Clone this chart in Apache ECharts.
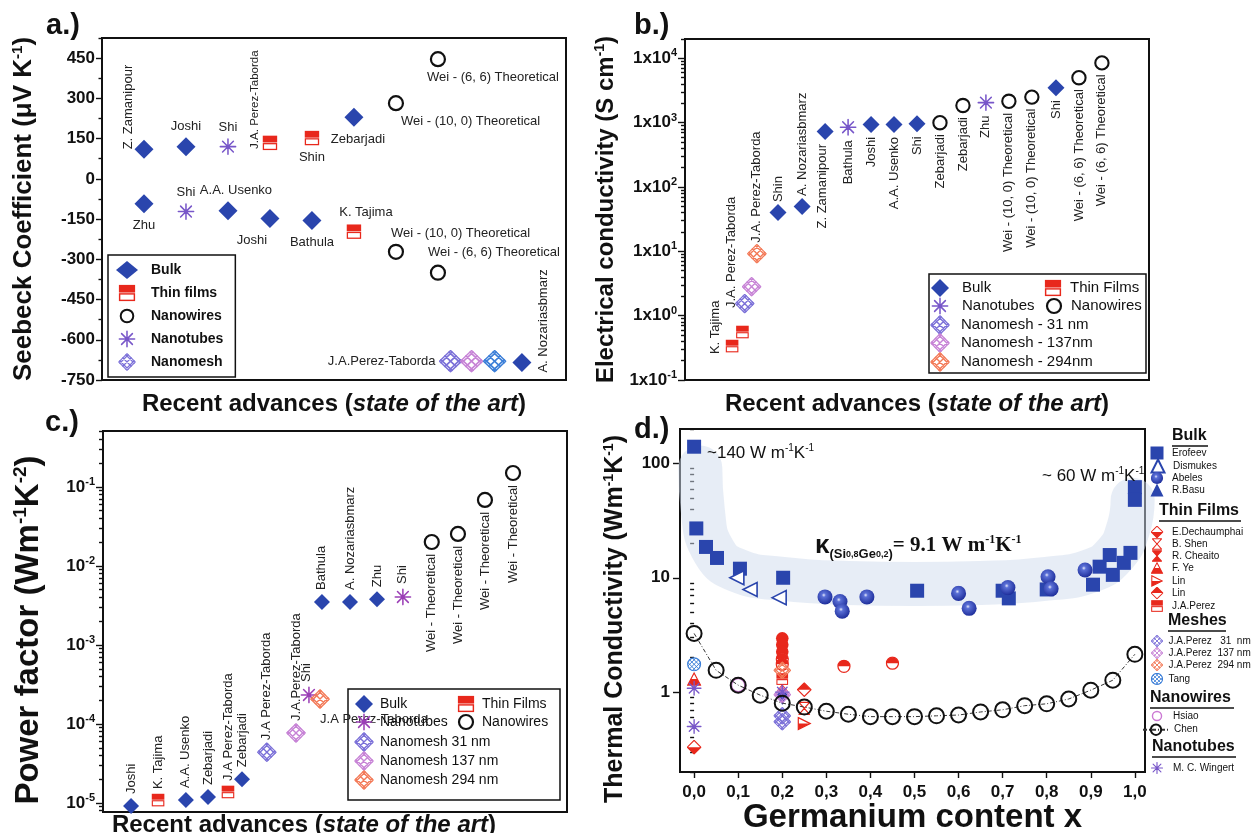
<!DOCTYPE html>
<html>
<head>
<meta charset="utf-8">
<title>SiGe thermoelectric properties</title>
<script src="https://cdn.jsdelivr.net/npm/echarts@6.0.0/dist/echarts.min.js"></script>
<style>
html,body{margin:0;padding:0;background:#fff;}
#wrap{position:relative;width:1251px;height:833px;overflow:hidden;background:#fff;}
.panel{position:absolute;left:0;top:0;width:1251px;height:833px;}
</style>
</head>
<body>
<div id="wrap">
  <div class="panel" id="pa"></div>
  <div class="panel" id="pb"></div>
  <div class="panel" id="pc"></div>
  <div class="panel" id="pd"></div>
</div>
<script>
// ===================== data =====================
// a) Seebeck coefficient (uV/K); x = slot along "state of the art"
const seebeckBulk  = [[1,110,'Z. Zamanipour'],[2,120,'Joshi'],[6,230,'Zebarjadi'],[1,-93,'Zhu'],[3,-119,'A.A. Usenko'],[4,-148,'Joshi'],[5,-155,'Bathula'],[10,-685,'A. Nozariasbmarz']];
const seebeckThin  = [[4,134,'J.A. Perez-Taborda'],[5,152,'Shin'],[6,-197,'K. Tajima']];
const seebeckWires = [[8,446,'Wei - (6, 6) Theoretical'],[7,282,'Wei - (10, 0) Theoretical'],[7,-272,'Wei - (10, 0) Theoretical'],[8,-350,'Wei - (6, 6) Theoretical']];
const seebeckTubes = [[3,120,'Shi'],[2,-122,'Shi']];
const seebeckMesh  = [[8.3,-680,'J.A.Perez-Taborda'],[8.8,-680,''],[9.35,-680,'']];
const seebeckTicks = [-750,-600,-450,-300,-150,0,150,300,450];
const seebeckMinor = [-675,-525,-375,-225,-75,75,225,375,525];

// b) Electrical conductivity (S/cm)
const condBulk    = [[4.05,40,'Shin'],[5.1,50,'A. Nozariasbmarz'],[6.1,730,'Z. Zamanipour'],[8.1,940,'Joshi'],[9.1,940,'A.A. Usenko'],[10.1,960,'Shi'],[16.15,3500,'Shi']];
const condThin    = [[2.05,0.337,'K. Tajima'],[2.5,0.557,'J.A. Perez-Taborda']];
const condTubes   = [[7.1,850,'Bathula'],[13.1,2050,'Zhu']];
const condWires   = [[11.1,1000,'Zebarjadi'],[12.1,1850,'Zebarjadi'],[14.1,2150,'Wei - (10, 0) Theoretical'],[15.1,2500,'Wei - (10, 0) Theoretical'],[17.15,5000,'Wei - (6, 6) Theoretical'],[18.15,8500,'Wei - (6, 6) Theoretical']];
const condMesh31  = [[2.6,1.54,'']];
const condMesh137 = [[2.9,2.82,'']];
const condMesh294 = [[3.13,9.2,'J.A. Perez-Taborda']];
const condTicks   = [0.1,1,10,100,1000,10000];

// c) Power factor (W m^-1 K^-2)
const pfBulk    = [[1.04,9.2e-6,'Joshi'],[3.07,1.09e-5,'A.A. Usenko'],[3.89,1.19e-5,'Zebarjadi'],[5.15,2.0e-5,'Zebarjadi'],[8.11,3.5e-3,'Bathula'],[9.15,3.5e-3,'A. Nozariasbmarz'],[10.15,3.8e-3,'Zhu']];
const pfThin    = [[2.04,1.09e-5,'K. Tajima'],[4.63,1.38e-5,'J.A Perez-Taborda']];
const pfTubes   = [[7.63,2.33e-4,'Shi'],[11.11,4.05e-3,'Shi']];
const pfWires   = [[12.18,2.01e-2,'Wei - Theoretical'],[13.15,2.54e-2,'Wei - Theoretical'],[14.15,6.84e-2,'Wei - Theoretical'],[15.19,1.5e-1,'Wei - Theoretical']];
const pfMesh31  = [[6.07,4.4e-5,'J.A Perez-Taborda']];
const pfMesh137 = [[7.15,7.7e-5,'J.A.Perez-Taborda']];
const pfMesh294 = [[8.04,2.07e-4,'J.A Perez-Taborda']];
const pfTicks   = [1e-5,1e-4,1e-3,1e-2,1e-1];

// d) Thermal conductivity (W m^-1 K^-1) vs germanium content x
const kErofeev   = [[0,140],[0.005,27],[0.027,18.6],[0.052,14.9],[0.104,12],[0.202,10],[0.506,7.7],[0.70,7.7],[0.714,6.6],[0.80,7.9],[0.905,8.7],[0.92,12.5],[0.943,15.8],[0.95,10.6],[0.975,13.5],[0.99,16.5],[1.0,62],[1.0,48]];
const kDismukes  = [[0.097,10],[0.127,7.9],[0.193,6.7]];
const kAbeles    = [[0.297,6.8],[0.331,6.2],[0.336,5.1],[0.392,6.8],[0.60,7.3],[0.624,5.4],[0.712,8.2],[0.803,10.2],[0.81,8.0],[0.887,11.7]];
const kBasu      = [[0.2,0.87]];
const kDechaumphai = [[0,0.33]];
const kShen      = [[0.25,0.72]];
const kCheaito   = [[0.2,1.15]];
const kYe        = [[0,1.3]];
const kLinTri    = [[0.25,0.53]];
const kLinDia    = [[0.25,1.05]];
const kPerezFilm = [[0.2,1.3]];
const kFilmRound = [[0.2,2.95],[0.2,2.6],[0.2,2.25],[0.2,1.95],[0.2,1.75],[0.34,1.68],[0.45,1.79]];
const kMesh31    = [[0.2,0.62],[0.2,0.55]];
const kMesh137   = [[0.2,0.95]];
const kMesh294   = [[0.2,1.55]];
const kTang      = [[0,1.75]];
const kHsiao     = [[0.1,1.15]];
const kChen      = [[0,3.26],[0.05,1.55],[0.1,1.15],[0.15,0.94],[0.2,0.80],[0.25,0.74],[0.3,0.68],[0.35,0.64],[0.4,0.61],[0.45,0.61],[0.5,0.61],[0.55,0.62],[0.6,0.63],[0.65,0.67],[0.7,0.70],[0.75,0.76],[0.8,0.79],[0.85,0.87],[0.9,1.04],[0.95,1.27],[1.0,2.14]];
const kWingert   = [[0,1.08],[0,0.5],[0.2,1.0]];
const kBand      = [[0.014,92],[0.02,38],[0.045,17],[0.1,11.5],[0.2,9.8],[0.35,9.0],[0.5,8.8],[0.65,9.0],[0.8,9.8],[0.9,11.5],[0.955,16],[0.985,27],[0.995,48]];
const kTicksX    = [0,0.1,0.2,0.3,0.4,0.5,0.6,0.7,0.8,0.9,1.0];
const kTicksY    = [1,10,100];

// ===================== styling helpers =====================
const FONT = '"Liberation Sans", Arial, Helvetica, sans-serif';
const SERIF = '"Liberation Serif", "Times New Roman", serif';
const INK = '#111';
const BLUE = '#2a45ad';
const RED = '#e8281c';
const TUBE = '#7857c9';
const TUBE_C = '#9b3fb6';
const MESH_V = '#7b70d8';
const MESH_P = '#c783d6';
const MESH_O = '#f37a58';
const MESH_B = '#3c7fd8';
const HSIAO = '#cc7ad4';

function svgSym(w, h, body) {
  return 'image://data:image/svg+xml;charset=utf-8,' + encodeURIComponent(
    '<svg xmlns="http://www.w3.org/2000/svg" width="' + w + '" height="' + h + '" viewBox="0 0 ' + w + ' ' + h + '">' + body + '</svg>');
}
function meshSym(c) {
  let d = '';
  for (let k = -14; k <= 14; k += 7) {
    d += 'M-4 ' + (-4 + k) + 'L25 ' + (25 + k) + 'M-4 ' + (25 + k) + 'L25 ' + (-4 + k);
  }
  return svgSym(21, 21, '<defs><clipPath id="c"><path d="M10.5 0L21 10.5L10.5 21L0 10.5Z"/></clipPath></defs>' +
    '<g clip-path="url(#c)"><path d="' + d + '" stroke="' + c + '" stroke-width="1.5" fill="none"/></g>' +
    '<path d="M10.5 0.8L20.2 10.5L10.5 20.2L0.8 10.5Z" fill="none" stroke="' + c + '" stroke-width="1.3"/>');
}
function asteriskSym(c) {
  return svgSym(20, 20, '<g stroke="' + c + '" stroke-width="1.7" stroke-linecap="round"><path d="M10 1.5V18.5M1.5 10H18.5M4 4L16 16M16 4L4 16"/></g><circle cx="10" cy="10" r="1.6" fill="' + c + '"/>');
}
function ringSym(c, sw) {
  return svgSym(20, 20, '<circle cx="10" cy="10" r="7" fill="#fff" stroke="' + c + '" stroke-width="' + sw + '"/>');
}
const RING = ringSym(INK, 2.2);
const HALF_SQ = svgSym(20, 20, '<rect x="1" y="1" width="18" height="8.5" fill="' + RED + '"/><rect x="1.8" y="11" width="16.4" height="7.2" fill="#fff" stroke="' + RED + '" stroke-width="1.6"/>');
const HALF_CIRC = svgSym(20, 20, '<circle cx="10" cy="10" r="8.6" fill="#fff" stroke="' + RED + '" stroke-width="1.8"/><path d="M1.4 10A8.6 8.6 0 0 1 18.6 10Z" fill="' + RED + '"/>');
const FULL_CIRC = svgSym(20, 20, '<circle cx="10" cy="10" r="9" fill="' + RED + '"/>');
const DIA_LOW = svgSym(20, 20, '<path d="M10 1L19 10L10 19L1 10Z" fill="#fff" stroke="' + RED + '" stroke-width="1.6"/><path d="M1 10L19 10L10 19Z" fill="' + RED + '"/>');
const DIA_UP = svgSym(20, 20, '<path d="M10 1L19 10L10 19L1 10Z" fill="#fff" stroke="' + RED + '" stroke-width="1.6"/><path d="M1 10L19 10L10 1Z" fill="' + RED + '"/>');
const HOUR_OPEN = svgSym(20, 20, '<path d="M3 2H17L10 10L17 18H3L10 10Z" fill="#fff" stroke="' + RED + '" stroke-width="1.6" stroke-linejoin="round"/>');
const HOUR_FULL = svgSym(20, 20, '<path d="M3 2H17L10 10L17 18H3L10 10Z" fill="' + RED + '" stroke="' + RED + '" stroke-width="1.6" stroke-linejoin="round"/>');
const TRI_UP = svgSym(20, 20, '<path d="M10 2L18.5 18H1.5Z" fill="#fff" stroke="' + RED + '" stroke-width="1.6"/><path d="M5.8 10H14.2L18.5 18H1.5Z" fill="' + RED + '"/>');
const TRI_RIGHT = svgSym(20, 20, '<path d="M2 2L18 10L2 18Z" fill="#fff" stroke="' + RED + '" stroke-width="1.6"/><path d="M2 10H18L2 18Z" fill="' + RED + '"/>');
const SPHERE = svgSym(20, 20, '<defs><radialGradient id="g" cx="0.42" cy="0.38" r="0.62"><stop offset="0" stop-color="#e6e9fb"/><stop offset="0.22" stop-color="#5a6fd6"/><stop offset="1" stop-color="#1f2f9c"/></radialGradient></defs><circle cx="10" cy="10" r="9.4" fill="url(#g)"/>');
const TANG = (function () {
  let d = '';
  for (let k = -12; k <= 12; k += 6) d += 'M-4 ' + (-4 + k) + 'L24 ' + (24 + k) + 'M-4 ' + (24 + k) + 'L24 ' + (-4 + k);
  return svgSym(20, 20, '<defs><clipPath id="t"><circle cx="10" cy="10" r="8.5"/></clipPath></defs><g clip-path="url(#t)"><path d="' + d + '" stroke="' + MESH_B + '" stroke-width="1.3" fill="none"/></g><circle cx="10" cy="10" r="8.6" fill="none" stroke="' + MESH_B + '" stroke-width="1.6"/>');
})();

// label placement; dx/dy are screen offsets (converted for rotated text)
function lab(kind, dx, dy, dist, fs) {
  dx = dx || 0; dy = dy || 0;
  const o = { show: true, formatter: '{b}', fontFamily: FONT, fontSize: fs || 13, color: '#222',
    offset: [dx, dy], distance: dist == null ? 4 : dist };
  switch (kind) {
    case 't': o.position = 'top'; break;
    case 'b': o.position = 'bottom'; break;
    case 'l': o.position = 'left'; break;
    case 'r': o.position = 'right'; break;
    case 'bl': o.position = 'bottom'; o.align = 'left'; break;
    case 'tl': o.position = 'top'; o.align = 'left'; break;
    case 'vu': o.position = 'top'; o.align = 'left'; break;
    case 'vd': o.position = 'bottom'; o.align = 'right'; break;
    case 'vl': o.position = 'left'; o.align = 'left'; break;
    case 'vr': o.position = 'right'; o.align = 'left'; break;
  }
  if (kind.charAt(0) === 'v') { o.rotate = 90; o.verticalAlign = 'middle'; o.offset = [-dy, dx]; }
  return o;
}
function items(arr, labels) {
  return arr.map(function (p, i) {
    const d = { value: [p[0], p[1]], name: p[2] || '' };
    if (labels && labels[i]) d.label = labels[i];
    return d;
  });
}
function solid(style) { return Object.assign({ opacity: 1 }, style || {}); }
function frameLine() { return { show: true, onZero: false, lineStyle: { color: INK, width: 2 } }; }
function ticks(len, vals) { return { show: true, inside: false, length: len, customValues: vals, lineStyle: { color: INK, width: 1.4 } }; }
function minorLog(min, max) {
  const out = [];
  for (let e = -7; e <= 5; e++) for (let m = 2; m <= 9; m++) {
    const v = parseFloat((m * Math.pow(10, e)).toPrecision(6));
    if (v >= min * 0.999 && v <= max * 1.001) out.push(v);
  }
  return out;
}
function supRich(big, small, raise) {
  return {
    m: { fontFamily: FONT, fontSize: big, fontWeight: 'bold', color: INK },
    s: { fontFamily: FONT, fontSize: small, fontWeight: 'bold', color: INK, padding: [0, 0, raise, 0] },
    i: { fontFamily: FONT, fontSize: big, fontWeight: 'bold', fontStyle: 'italic', color: INK }
  };
}
function tag(text, x, y) {
  return { type: 'text', left: x, top: y, z: 10, style: { text: text, font: 'bold 29px ' + FONT, fill: INK } };
}
function legendAt(name, cx, cy, tx, o) {
  o = o || {};
  const w = o.w || 18, h = o.h || 18;
  return {
    data: [name], orient: 'horizontal', left: cx - w / 2, top: cy - h / 2,
    itemWidth: w, itemHeight: h, itemGap: 0, padding: 0, selectedMode: false,
    textStyle: { fontFamily: FONT, fontSize: o.fs || 14, fontWeight: o.fw || 'normal', color: INK,
      padding: [0, 0, 0, Math.max(0, tx - (cx + w / 2 + 5))] }
  };
}
const REC_NAME = '{m|Recent advances (}{i|state of the art}{m|)}';

// ===================== a) Seebeck =====================
const optA = {
  animation: false,
  textStyle: { fontFamily: FONT },
  grid: { left: 102, top: 38, width: 464, height: 342, show: true, borderColor: INK, borderWidth: 2, outerBoundsMode: 'none' },
  xAxis: {
    type: 'value', min: 0, max: 11.05, axisLine: frameLine(), axisTick: { show: false }, axisLabel: { show: false }, splitLine: { show: false },
    name: REC_NAME, nameLocation: 'middle', nameGap: 12, nameTextStyle: { rich: supRich(24, 14, 10) }
  },
  yAxis: [
    { type: 'value', min: -750, max: 525, axisLine: frameLine(), axisTick: ticks(6, seebeckTicks), splitLine: { show: false },
      axisLabel: { customValues: seebeckTicks, fontFamily: FONT, fontSize: 17, fontWeight: 'bold', color: INK, margin: 7 },
      name: '{m|Seebeck Coefficient (\u03bcV K}{s|-1}{m|)}', nameLocation: 'middle', nameGap: 64,
      nameTextStyle: { rich: supRich(26, 15, 13) } },
    { type: 'value', min: -750, max: 525, position: 'left', axisLine: { show: false }, axisTick: ticks(3.5, seebeckMinor), axisLabel: { show: false }, splitLine: { show: false } }
  ],
  legend: {
    orient: 'vertical', left: 108, top: 255, data: ['Bulk', 'Thin films', 'Nanowires', 'Nanotubes', 'Nanomesh'],
    itemWidth: 22, itemHeight: 18, itemGap: 5, padding: [6, 12, 6, 8], borderColor: INK, borderWidth: 1.5, backgroundColor: '#fff',
    selectedMode: false, textStyle: { fontFamily: FONT, fontSize: 14, fontWeight: 'bold', color: INK, padding: [0, 0, 0, 8] }
  },
  graphic: [tag('a.)', 46, 11)],
  series: [
    { type: 'scatter', name: 'Bulk', symbol: 'diamond', symbolSize: 19, itemStyle: solid({ color: BLUE }),
      data: items(seebeckBulk, [lab('vl', 0, 0, 6), lab('t'), lab('b', 4, 0, 6), lab('b', 0, 0, 6), lab('t', 8), lab('b', -18, 0, 6), lab('b', 0, 0, 6), lab('vr', 0, 10, 12)]) },
    { type: 'scatter', name: 'Thin films', symbol: HALF_SQ, symbolSize: 16, itemStyle: solid(),
      data: items(seebeckThin, [lab('vl', -1, 6, 6, 11.5), lab('b', 0, 0, 5), lab('t', 12, 0, 5)]) },
    { type: 'scatter', name: 'Nanowires', symbol: RING, symbolSize: 20, itemStyle: solid(),
      data: items(seebeckWires, [lab('bl', -11, -2, 4), lab('bl', 5, -2, 4), lab('tl', -5, 2, 4), lab('tl', -10, 2, 6)]) },
    { type: 'scatter', name: 'Nanotubes', symbol: asteriskSym(TUBE), symbolSize: 18, itemStyle: solid(),
      data: items(seebeckTubes, [lab('t', 0, 0, 4), lab('t', 0, 0, 4)]) },
    { type: 'scatter', name: 'Nanomesh', symbol: meshSym(MESH_V), symbolSize: [24, 23], itemStyle: solid(),
      data: items(seebeckMesh, [lab('l', 0, 0, 3), null, null]).map(function (d, i) { d.symbol = meshSym([MESH_V, MESH_P, MESH_B][i]); return d; }) }
  ]
};

// ===================== b) conductivity =====================
function expFmt(base) {
  return function (v) { const e = Math.round(Math.log10(v)); return '{m|' + base + '}{s|' + e + '}'; };
}
const optB = {
  animation: false,
  textStyle: { fontFamily: FONT },
  grid: { left: 685, top: 39, width: 464, height: 341, show: true, borderColor: INK, borderWidth: 2, outerBoundsMode: 'none' },
  xAxis: {
    type: 'value', min: 0, max: 20.2, axisLine: frameLine(), axisTick: { show: false }, axisLabel: { show: false }, splitLine: { show: false },
    name: REC_NAME, nameLocation: 'middle', nameGap: 12, nameTextStyle: { rich: supRich(24, 14, 10) }
  },
  yAxis: [
    { type: 'log', logBase: 10, min: 0.1, max: 20000, axisLine: frameLine(), axisTick: ticks(7, condTicks), splitLine: { show: false },
      axisLabel: { customValues: condTicks, formatter: expFmt('1x10'), rich: supRich(17, 11, 10), margin: 8 },
      name: '{m|Electrical conductivity (S cm}{s|-1}{m|)}', nameLocation: 'middle', nameGap: 65,
      nameTextStyle: { rich: supRich(24, 14, 13) } },
    { type: 'log', logBase: 10, min: 0.1, max: 20000, position: 'left', axisLine: { show: false }, axisTick: ticks(4, minorLog(0.1, 20000)), axisLabel: { show: false }, splitLine: { show: false } }
  ],
  legend: [
    legendAt('Bulk', 940, 288, 962, { fs: 15 }),
    legendAt('Thin Films', 1053, 288, 1070, { fs: 15 }),
    legendAt('Nanotubes', 940, 306, 962, { fs: 15 }),
    legendAt('Nanowires', 1054, 306, 1071, { fs: 15, w: 20, h: 20 }),
    legendAt('Nanomesh - 31 nm', 940, 325, 961, { fs: 15, w: 20, h: 20 }),
    legendAt('Nanomesh - 137nm', 940, 343, 961, { fs: 15, w: 20, h: 20 }),
    legendAt('Nanomesh - 294nm', 940, 362, 961, { fs: 15, w: 20, h: 20 })
  ],
  graphic: [
    tag('b.)', 634, 11),
    { type: 'rect', shape: { x: 929, y: 274, width: 217, height: 99 }, style: { fill: '#fff', stroke: INK, lineWidth: 1.5 }, z: 0 }
  ],
  series: [
    { type: 'scatter', name: 'Bulk', symbol: 'diamond', symbolSize: 17, itemStyle: solid({ color: BLUE }), z: 3,
      data: items(condBulk, [lab('vu', 0, 0, 2), lab('vu', 0, 0, 2), lab('vd', -3, 0, 4), lab('vd'), lab('vd'), lab('vd'), lab('vd')]) },
    { type: 'scatter', name: 'Thin Films', symbol: HALF_SQ, symbolSize: 14, itemStyle: solid(), z: 3,
      data: items(condThin, [lab('vl', 0, 8, 10), lab('vu', -11, 0, 17)]) },
    { type: 'scatter', name: 'Nanotubes', symbol: asteriskSym(TUBE), symbolSize: 18, itemStyle: solid(), z: 3,
      data: items(condTubes, [lab('vd'), lab('vd')]) },
    { type: 'scatter', name: 'Nanowires', symbol: RING, symbolSize: 19, itemStyle: solid(), z: 3,
      data: items(condWires, [lab('vd', 0, 0, 2), lab('vd', 0, 0, 2), lab('vd', 0, 0, 2), lab('vd', 0, 0, 2), lab('vd', 0, 0, 2), lab('vd', 0, 0, 2)]) },
    { type: 'scatter', name: 'Nanomesh - 31 nm', symbol: meshSym(MESH_V), symbolSize: 20, itemStyle: solid(), z: 3, data: items(condMesh31) },
    { type: 'scatter', name: 'Nanomesh - 137nm', symbol: meshSym(MESH_P), symbolSize: 20, itemStyle: solid(), z: 3, data: items(condMesh137) },
    { type: 'scatter', name: 'Nanomesh - 294nm', symbol: meshSym(MESH_O), symbolSize: 20, itemStyle: solid(), z: 3, data: items(condMesh294, [lab('vu', 0, 0, 1)]) }
  ]
};

// ===================== c) power factor =====================
const optC = {
  animation: false,
  textStyle: { fontFamily: FONT },
  grid: { left: 103, top: 431, width: 464, height: 381, show: true, borderColor: INK, borderWidth: 2, outerBoundsMode: 'none' },
  xAxis: {
    type: 'value', min: 0, max: 17.19, axisLine: frameLine(), axisTick: { show: false }, axisLabel: { show: false }, splitLine: { show: false },
    name: REC_NAME, nameLocation: 'middle', nameGap: 1, nameTextStyle: { rich: supRich(24, 14, 10), padding: [0, 62, 0, 0] }
  },
  yAxis: [
    { type: 'log', logBase: 10, min: 7.7e-6, max: 0.51, axisLine: frameLine(), axisTick: ticks(7, pfTicks), splitLine: { show: false },
      axisLabel: { customValues: pfTicks, formatter: expFmt('10'), rich: supRich(17, 11, 10), margin: 8 },
      name: '{m|Power factor (Wm}{s|-1}{m|K}{s|-2}{m|)}', nameLocation: 'middle', nameGap: 56,
      nameTextStyle: { rich: supRich(33, 19, 17), padding: [0, 17, 0, 0] } },
    { type: 'log', logBase: 10, min: 7.7e-6, max: 0.51, position: 'left', axisLine: { show: false }, axisTick: ticks(4, minorLog(7.7e-6, 0.51)), axisLabel: { show: false }, splitLine: { show: false } }
  ],
  legend: [
    legendAt('Bulk', 364, 704, 380),
    legendAt('Thin Films', 466, 704, 482),
    legendAt('Nanotubes', 364, 722, 380),
    legendAt('Nanowires', 466, 722, 482, { w: 20, h: 20 }),
    legendAt('Nanomesh 31 nm', 364, 742, 380, { w: 20, h: 20 }),
    legendAt('Nanomesh 137 nm', 364, 761, 380, { w: 20, h: 20 }),
    legendAt('Nanomesh 294 nm', 364, 780, 380, { w: 20, h: 20 })
  ],
  graphic: [
    tag('c.)', 45, 408),
    { type: 'rect', shape: { x: 348, y: 689, width: 212, height: 111 }, style: { fill: '#fff', stroke: INK, lineWidth: 1.5 }, z: 0 }
  ],
  series: [
    { type: 'scatter', name: 'Bulk', symbol: 'diamond', symbolSize: 16, itemStyle: solid({ color: BLUE }), z: 3,
      data: items(pfBulk, [lab('vu'), lab('vu'), lab('vu'), lab('vu'), lab('vu'), lab('vu'), lab('vu')]) },
    { type: 'scatter', name: 'Thin Films', symbol: HALF_SQ, symbolSize: 14, itemStyle: solid(), z: 3,
      data: items(pfThin, [lab('vu'), lab('vu')]) },
    { type: 'scatter', name: 'Nanotubes', symbol: asteriskSym(TUBE_C), symbolSize: 18, itemStyle: solid(), z: 3,
      data: items(pfTubes, [lab('vu', -3, 0, 4), lab('vu')]) },
    { type: 'scatter', name: 'Nanowires', symbol: RING, symbolSize: 20, itemStyle: solid(), z: 3,
      data: items(pfWires, [lab('vd', 0, 0, 2), lab('vd', 0, 0, 2), lab('vd', 0, 0, 2), lab('vd', 0, 0, 2)]) },
    { type: 'scatter', name: 'Nanomesh 31 nm', symbol: meshSym(MESH_V), symbolSize: 20, itemStyle: solid(), z: 3, data: items(pfMesh31, [lab('vu', 0, 0, 2)]) },
    { type: 'scatter', name: 'Nanomesh 137 nm', symbol: meshSym(MESH_P), symbolSize: 20, itemStyle: solid(), z: 3, data: items(pfMesh137, [lab('vu', 0, 0, 2)]) },
    { type: 'scatter', name: 'Nanomesh 294 nm', symbol: meshSym(MESH_O), symbolSize: 20, itemStyle: solid(), z: 3, data: items(pfMesh294, [lab('bl', 0, 0, 4)]) }
  ]
};

// ===================== d) thermal conductivity =====================
function header(text, x, cy, w) {
  return [
    { type: 'text', left: x, top: cy - 9, z: 10, style: { text: text, font: 'bold 16px ' + FONT, fill: INK } },
    { type: 'line', z: 10, shape: { x1: x, y1: cy + 9, x2: x + w, y2: cy + 9 }, style: { stroke: INK, lineWidth: 1.5 } }
  ];
}
const dLeg = function (name, cy, tx, o) { o = o || {}; return legendAt(name, o.cx || 1157, cy, tx, { w: o.w || 13, h: o.h || 13, fs: 10 }); };
const optD = {
  animation: false,
  textStyle: { fontFamily: FONT },
  grid: { left: 680, top: 429, width: 465, height: 343, show: true, borderColor: INK, borderWidth: 2, outerBoundsMode: 'none' },
  xAxis: {
    type: 'value', min: -0.032, max: 1.023, axisLine: frameLine(), axisTick: ticks(6, kTicksX), splitLine: { show: false },
    axisLabel: { customValues: kTicksX, formatter: function (v) { return v.toFixed(1).replace('.', ','); }, fontFamily: FONT, fontSize: 17, fontWeight: 'bold', color: INK, margin: 12 },
    name: 'Germanium content x', nameLocation: 'middle', nameGap: 29, nameTextStyle: { fontFamily: FONT, fontSize: 33, fontWeight: 'bold', color: INK }
  },
  yAxis: [
    { type: 'log', logBase: 10, min: 0.2, max: 200, axisLine: frameLine(), axisTick: ticks(7, kTicksY), splitLine: { show: false },
      axisLabel: { customValues: kTicksY, fontFamily: FONT, fontSize: 17, fontWeight: 'bold', color: INK, margin: 10 },
      name: '{m|Thermal Conductivity (Wm}{s|-1}{m|K}{s|-1}{m|)}', nameLocation: 'middle', nameGap: 52,
      nameTextStyle: { rich: supRich(25, 14, 12), padding: [0, 37, 0, 0] } },
    { type: 'log', logBase: 10, min: 0.2, max: 200, position: 'left', axisLine: { show: false }, axisTick: ticks(4, minorLog(0.2, 200)), axisLabel: { show: false }, splitLine: { show: false } }
  ],
  legend: [
    dLeg('Erofeev', 453, 1172), dLeg('Dismukes', 465, 1172), dLeg('Abeles', 478, 1172), dLeg('R.Basu', 490, 1172),
    dLeg('E.Dechaumphai', 532, 1172), dLeg('B. Shen', 544, 1172), dLeg('R. Cheaito', 556, 1172), dLeg('F. Ye', 568, 1172),
    dLeg('Lin', 581, 1172), dLeg('Lin ', 593, 1172), dLeg('J.A.Perez', 606, 1172),
    dLeg('J.A.Perez   31  nm', 641, 1168), dLeg('J.A.Perez  137 nm', 653, 1168), dLeg('J.A.Perez  294 nm', 665, 1168), dLeg('Tang', 679, 1168),
    dLeg('Hsiao', 716, 1173), dLeg('Chen', 730, 1173, { w: 26, cx: 1155 }), dLeg('M. C. Wingert', 768, 1173)
  ],
  graphic: [tag('d.)', 634, 415)]
    .concat(header('Bulk', 1172, 437, 36))
    .concat(header('Thin Films', 1159, 512, 82))
    .concat(header('Meshes', 1168, 622, 58))
    .concat(header('Nanowires', 1150, 699, 84))
    .concat(header('Nanotubes', 1152, 748, 84))
    .concat([
      { type: 'text', left: 707, top: 443, z: 10, style: { text: '{n|~140 W m}{u|-1}{n|K}{u|-1}', rich: {
        n: { fontFamily: FONT, fontSize: 17, fill: INK }, u: { fontFamily: FONT, fontSize: 10, fill: INK, padding: [0, 0, 10, 0] } } } },
      { type: 'text', left: 1042, top: 466, z: 10, style: { text: '{n|~ 60 W m}{u|-1}{n|K}{u|-1}', rich: {
        n: { fontFamily: FONT, fontSize: 17, fill: INK }, u: { fontFamily: FONT, fontSize: 10, fill: INK, padding: [0, 0, 10, 0] } } } },
      { type: 'text', left: 815, top: 533, z: 10, style: { text: '{k|\u03ba}{p|(Si}{q|0,8}{p|Ge}{q|0,2}{p|)}{e|= 9.1 W m}{u|-1}{e|K}{u|-1}', rich: {
        k: { fontFamily: FONT, fontSize: 26, fontWeight: 'bold', fill: INK },
        p: { fontFamily: FONT, fontSize: 13, fontWeight: 'bold', fill: INK, padding: [16, 0, 0, 0] },
        q: { fontFamily: FONT, fontSize: 9, fontWeight: 'bold', fill: INK, padding: [18, 0, 0, 0] },
        e: { fontFamily: SERIF, fontSize: 21, fontWeight: 'bold', fill: INK },
        u: { fontFamily: SERIF, fontSize: 12, fontWeight: 'bold', fill: INK, padding: [0, 0, 12, 0] } } } }
    ]),
  series: [
    { type: 'line', name: 'band', data: kBand, smooth: 0.5, symbol: 'none', silent: true, z: 1,
      lineStyle: { color: 'rgba(208,220,237,0.5)', width: 44, cap: 'round', join: 'round' } },
    { type: 'scatter', name: 'Erofeev', symbol: 'rect', symbolSize: 14, itemStyle: solid({ color: BLUE }), z: 3, data: items(kErofeev) },
    { type: 'scatter', name: 'Dismukes', symbol: 'triangle', symbolRotate: 90, symbolSize: 14, itemStyle: solid({ color: '#fff', borderColor: BLUE, borderWidth: 1.6 }), z: 3, data: items(kDismukes) },
    { type: 'scatter', name: 'Abeles', symbol: SPHERE, symbolSize: 16, itemStyle: solid(), z: 3, data: items(kAbeles) },
    { type: 'scatter', name: 'R.Basu', symbol: 'triangle', symbolRotate: 180, symbolSize: 12, itemStyle: solid({ color: BLUE }), z: 3, data: items(kBasu) },
    { type: 'scatter', name: 'E.Dechaumphai', symbol: DIA_LOW, symbolSize: 15, itemStyle: solid(), z: 3, data: items(kDechaumphai) },
    { type: 'scatter', name: 'B. Shen', symbol: HOUR_OPEN, symbolSize: 15, itemStyle: solid(), z: 3, data: items(kShen) },
    { type: 'scatter', name: 'R. Cheaito', symbol: HOUR_FULL, symbolSize: 14, itemStyle: solid(), z: 3, data: items(kCheaito) },
    { type: 'scatter', name: 'F. Ye', symbol: TRI_UP, symbolSize: 15, itemStyle: solid(), z: 3, data: items(kYe) },
    { type: 'scatter', name: 'Lin', symbol: TRI_RIGHT, symbolSize: 15, itemStyle: solid(), z: 3, data: items(kLinTri) },
    { type: 'scatter', name: 'Lin ', symbol: DIA_UP, symbolSize: 15, itemStyle: solid(), z: 3, data: items(kLinDia) },
    { type: 'scatter', name: 'J.A.Perez', symbol: HALF_SQ, symbolSize: 13, itemStyle: solid(), z: 3, data: items(kPerezFilm) },
    { type: 'scatter', name: 'Thin film (round)', symbol: HALF_CIRC, symbolSize: 14, itemStyle: solid(), z: 3,
      data: items(kFilmRound).map(function (d, i) { if (i < 3) d.symbol = FULL_CIRC; return d; }) },
    { type: 'scatter', name: 'J.A.Perez   31  nm', symbol: meshSym(MESH_V), symbolSize: 18, itemStyle: solid(), z: 3, data: items(kMesh31) },
    { type: 'scatter', name: 'J.A.Perez  137 nm', symbol: meshSym(MESH_P), symbolSize: 18, itemStyle: solid(), z: 3, data: items(kMesh137) },
    { type: 'scatter', name: 'J.A.Perez  294 nm', symbol: meshSym(MESH_O), symbolSize: 18, itemStyle: solid(), z: 3, data: items(kMesh294) },
    { type: 'scatter', name: 'Tang', symbol: TANG, symbolSize: 15, itemStyle: solid(), z: 3, data: items(kTang) },
    { type: 'scatter', name: 'Hsiao', symbol: ringSym(HSIAO, 2.2), symbolSize: 20, itemStyle: solid(), z: 3, data: items(kHsiao) },
    { type: 'scatter', name: 'M. C. Wingert', symbol: asteriskSym(TUBE), symbolSize: 16, itemStyle: solid(), z: 3, data: items(kWingert) },
    { type: 'line', name: 'Chen', data: kChen, symbol: 'circle', symbolSize: 15, showSymbol: true, z: 4,
      itemStyle: { color: 'rgba(255,255,255,0)', borderColor: INK, borderWidth: 2, opacity: 1 },
      lineStyle: { color: '#333', width: 1, type: [4, 2, 1, 2] } }
  ]
};

// ===================== render =====================
[['pa', optA], ['pb', optB], ['pc', optC], ['pd', optD]].forEach(function (p) {
  const chart = echarts.init(document.getElementById(p[0]), null, { renderer: 'canvas' });
  chart.setOption(p[1]);
});
</script>
</body>
</html>
